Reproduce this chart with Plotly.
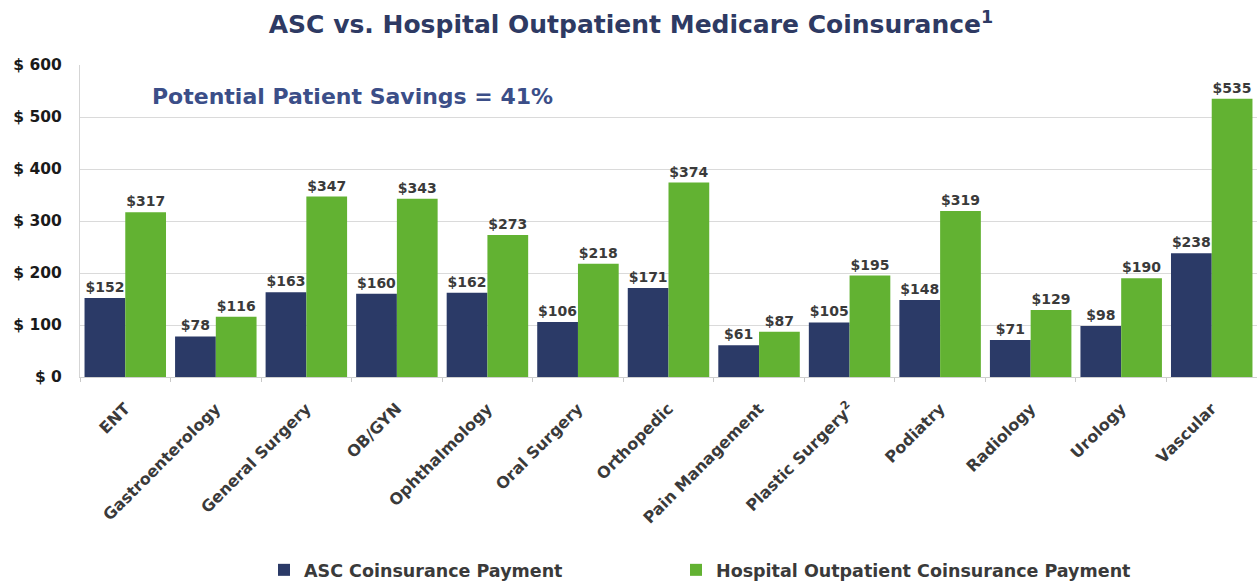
import plotly.graph_objects as go

categories = ["ENT", "Gastroenterology", "General Surgery", "OB/GYN", "Ophthalmology",
              "Oral Surgery", "Orthopedic", "Pain Management", "Plastic Surgery<sup>2</sup>",
              "Podiatry", "Radiology", "Urology", "Vascular"]
asc_values = [152, 78, 163, 160, 162, 106, 171, 61, 105, 148, 71, 98, 238]
hopd_values = [317, 116, 347, 343, 273, 218, 374, 87, 195, 319, 129, 190, 535]
y_tick_vals = [0, 100, 200, 300, 400, 500, 600]
y_tick_text = ["$ 0", "$ 100", "$ 200", "$ 300", "$ 400", "$ 500", "$ 600"]

FONT = "DejaVu Sans, Verdana, sans-serif"
NAVY = "#2b3a67"
GREEN = "#62b232"

fig = go.Figure()
fig.add_trace(go.Bar(
    name="<b>ASC Coinsurance Payment</b>", x=categories, y=asc_values,
    marker=dict(color=NAVY, line=dict(width=0)),
    texttemplate="<b>$%{y}</b>", textposition="outside", cliponaxis=False,
    textfont=dict(family=FONT, size=14, color="#3a3a3a"),
    legend="legend",
))
fig.add_trace(go.Bar(
    name="<b>Hospital Outpatient Coinsurance Payment</b>", x=categories, y=hopd_values,
    marker=dict(color=GREEN, line=dict(width=0)),
    texttemplate="<b>$%{y}</b>", textposition="outside", cliponaxis=False,
    textfont=dict(family=FONT, size=14, color="#3a3a3a"),
    legend="legend2",
))

legend_common = dict(orientation="h", yref="container", yanchor="middle", y=0.019,
                     xref="container", xanchor="left",
                     font=dict(family=FONT, size=17.5, color="#3a3a3a"),
                     bgcolor="rgba(0,0,0,0)")

fig.update_layout(
    width=1257, height=581,
    margin=dict(l=80, r=0, t=65, b=204, autoexpand=False),
    paper_bgcolor="white", plot_bgcolor="white",
    barmode="group", bargap=0.1, bargroupgap=0,
    font=dict(family=FONT, color="#222222"),
    title=dict(text="<b>ASC vs. Hospital Outpatient Medicare Coinsurance<sup>1</sup></b>",
               xref="container", x=0.502, xanchor="center",
               yref="container", y=0.958, yanchor="middle",
               font=dict(family=FONT, size=25, color="#2e3a63")),
    showlegend=True,
    legend=dict(x=264 / 1257, **legend_common),
    legend2=dict(x=676 / 1257, **legend_common),
)
fig.update_xaxes(
    type="category", tickangle=-45, automargin=False,
    tickfont=dict(family=FONT, size=16, color="#3a3a3a"),
    ticks="outside", tickson="boundaries", ticklen=4, tickcolor="#c8c8c8",
    ticklabelstandoff=15,
    showline=True, linecolor="#cfcfcf", linewidth=1,
    showgrid=False,
    tickprefix="<b>", ticksuffix="</b>",
)
fig.update_yaxes(
    range=[0, 600], tickvals=y_tick_vals, ticktext=[f"<b>{t}</b>" for t in y_tick_text],
    automargin=False,
    tickfont=dict(family=FONT, size=15.5, color="#1a1a1a"),
    showgrid=True, gridcolor="#dadada", gridwidth=1,
    showline=True, linecolor="#d5d5d5", linewidth=1,
    zeroline=False, ticks="", ticklabelstandoff=14,
)
fig.add_annotation(
    text="<b>Potential Patient Savings = 41%</b>", xref="paper", yref="paper",
    x=0.0595, y=0.898, xanchor="left", yanchor="middle", showarrow=False,
    font=dict(family=FONT, size=22, color="#3b4e88"),
)

fig.write_html("out.html")
